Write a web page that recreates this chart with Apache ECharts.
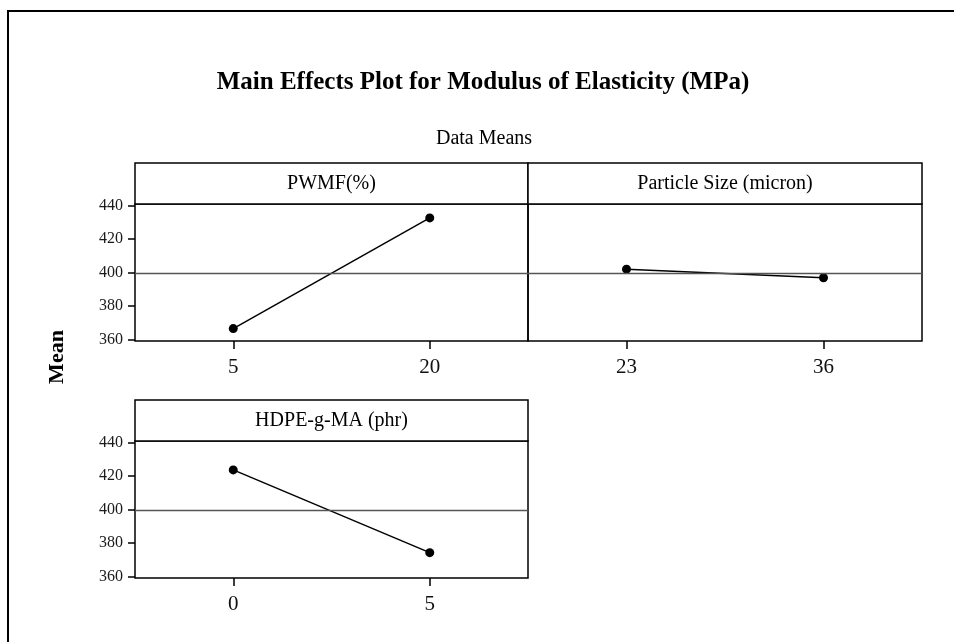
<!DOCTYPE html>
<html>
<head>
<meta charset="utf-8">
<title>Main Effects Plot for Modulus of Elasticity (MPa)</title>
<script src="https://cdn.jsdelivr.net/npm/echarts@6/dist/echarts.min.js"></script>
<style>
  html, body { margin: 0; padding: 0; background: #fff; }
  #chart { width: 954px; height: 642px; }
</style>
</head>
<body>
<div id="chart"></div>
<script>
// Factor levels and the mean response at each level
const pwmfLevels = ['5', '20'];
const pwmfMeans = [366.6, 432.5];

const sizeLevels = ['23', '36'];
const sizeMeans = [402.0, 396.9];

const hdpeLevels = ['0', '5'];
const hdpeMeans = [423.6, 374.3];

// Overall mean of all observations (reference line)
const grandMean = 399.4;

// Shared mean axis
const meanTicks = [360, 380, 400, 420, 440];
const meanMin = 359.2;
const meanMax = 440.8;

const panelTitles = ['PWMF(%)', 'Particle Size (micron)', 'HDPE-g-MA (phr)'];

// Panel layout (pixels)
const STRIP = 41;
const panels = [
  { left: 135, top: 204, width: 393, height: 137, levels: pwmfLevels, means: pwmfMeans, yLabels: true },
  { left: 528, top: 204, width: 394, height: 137, levels: sizeLevels, means: sizeMeans, yLabels: false },
  { left: 135, top: 441, width: 393, height: 137, levels: hdpeLevels, means: hdpeMeans, yLabels: true }
];

const FONT = '"Liberation Serif", "Times New Roman", serif';

const grids = [], xAxes = [], yAxes = [], series = [], graphics = [];

// Outer frame, running off the right and bottom of the canvas
graphics.push({
  type: 'rect',
  shape: { x: 8, y: 11, width: 1000, height: 700 },
  style: { fill: 'none', stroke: '#000', lineWidth: 2 },
  silent: true, z: 0
});

// "Mean" axis title shared by all panels
graphics.push({
  type: 'text',
  x: 57, y: 357,
  rotation: Math.PI / 2,
  style: {
    text: 'Mean', font: 'bold 22px ' + FONT, fill: '#000',
    textAlign: 'center', textVerticalAlign: 'middle'
  },
  silent: true
});

panels.forEach((p, i) => {
  grids.push({
    left: p.left, top: p.top, width: p.width, height: p.height,
    show: true, borderColor: '#000', borderWidth: 1.5, backgroundColor: 'transparent',
    containLabel: false
  });

  xAxes.push({
    type: 'category', gridIndex: i, data: p.levels, boundaryGap: true,
    axisLine: { show: false },
    axisTick: { show: true, alignWithLabel: true, length: 8, lineStyle: { color: '#000', width: 1.5 } },
    axisLabel: { show: true, margin: 16, fontFamily: FONT, fontSize: 21, color: '#111' },
    splitLine: { show: false }
  });

  yAxes.push({
    type: 'value', gridIndex: i, min: meanMin, max: meanMax,
    axisLine: { show: false },
    axisTick: {
      show: p.yLabels, length: 7, customValues: meanTicks,
      lineStyle: { color: '#000', width: 1.5 }
    },
    axisLabel: {
      show: p.yLabels, customValues: meanTicks, margin: 12,
      fontFamily: FONT, fontSize: 16, color: '#1a1a1a'
    },
    splitLine: { show: false }
  });

  series.push({
    type: 'line', xAxisIndex: i, yAxisIndex: i,
    data: p.means,
    symbol: 'circle', symbolSize: 9,
    itemStyle: { color: '#000' },
    lineStyle: { color: '#000', width: 1.5 },
    animation: false,
    markLine: {
      silent: true, symbol: 'none', animation: false,
      label: { show: false },
      lineStyle: { color: '#555', width: 1.3, type: 'solid' },
      data: [{ yAxis: grandMean }]
    }
  });

  // Panel header strip with the factor name
  graphics.push({
    type: 'rect',
    shape: { x: p.left, y: p.top - STRIP, width: p.width, height: STRIP },
    style: { fill: '#fff', stroke: '#000', lineWidth: 1.5 },
    silent: true
  });
  graphics.push({
    type: 'text',
    x: p.left + p.width / 2, y: p.top - STRIP / 2,
    style: {
      text: panelTitles[i], font: '20px ' + FONT, fill: '#000',
      textAlign: 'center', textVerticalAlign: 'middle'
    },
    silent: true
  });
});

const chart = echarts.init(document.getElementById('chart'), null, { renderer: 'canvas' });
chart.setOption({
  backgroundColor: '#fff',
  animation: false,
  title: [
    {
      text: 'Main Effects Plot for Modulus of Elasticity (MPa)',
      left: 483, top: 70, textAlign: 'center', padding: 0,
      textStyle: { fontFamily: FONT, fontSize: 25, fontWeight: 'bold', color: '#000' }
    },
    {
      text: 'Data Means',
      left: 484, top: 129, textAlign: 'center', padding: 0,
      textStyle: { fontFamily: FONT, fontSize: 20, fontWeight: 'normal', color: '#000' }
    }
  ],
  grid: grids,
  xAxis: xAxes,
  yAxis: yAxes,
  series: series,
  graphic: graphics
});
</script>
</body>
</html>
